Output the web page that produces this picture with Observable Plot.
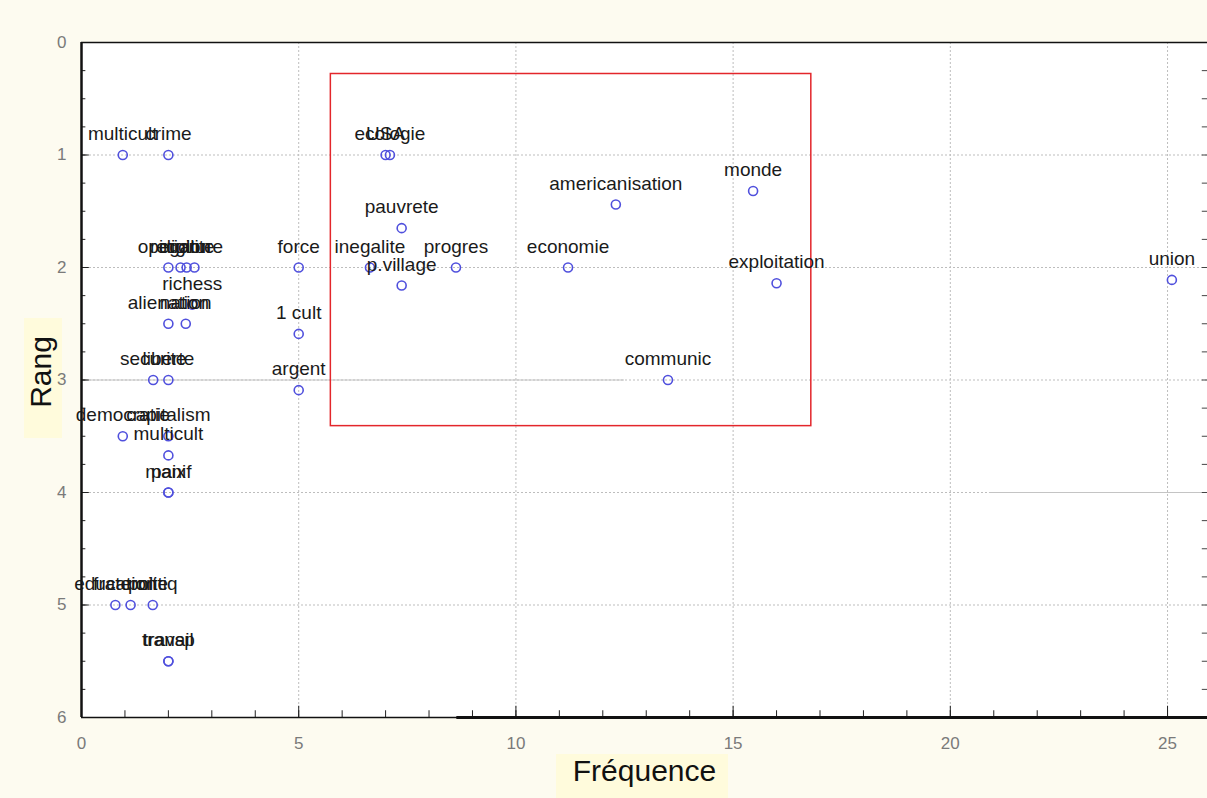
<!DOCTYPE html>
<html>
<head>
<meta charset="utf-8">
<script src="https://cdn.jsdelivr.net/npm/d3@7"></script>
<script src="https://cdn.jsdelivr.net/npm/@observablehq/plot@0.6"></script>
<style>
  html, body { margin: 0; padding: 0; background: #fdfbf0; }
  #chart svg { display: block; }
</style>
</head>
<body>
<div id="chart"></div>
<script>
// ---- data ----
const labels = [
  "multicult","crime",
  "opinion","religion","egalite","culture",
  "alienation","nation","richess",
  "securite","liberte",
  "democratie","capitalism","multicult",
  "paix","manif",
  "education","fraternite","politiq",
  "transp","travail",
  "USA","ecologie","pauvrete","force","inegalite","p.village","progres",
  "1 cult","argent","economie","americanisation","monde","exploitation",
  "communic","union"
];
const frequence = [
  0.95, 2,
  2, 2.28, 2.42, 2.6,
  2, 2.4, 2.55,
  1.65, 2,
  0.95, 2, 2,
  2, 2,
  0.78, 1.13, 1.64,
  2, 2,
  7.0, 7.1, 7.37, 5, 6.64, 7.37, 8.62,
  5, 5, 11.2, 12.3, 15.46, 16.0,
  13.5, 25.1
];
const rang = [
  1, 1,
  2, 2, 2, 2,
  2.5, 2.5, 2.33,
  3, 3,
  3.5, 3.5, 3.67,
  4, 4,
  5, 5, 5,
  5.5, 5.5,
  1, 1, 1.65, 2, 2, 2.16, 2,
  2.59, 3.09, 2, 1.44, 1.32, 2.14,
  3, 2.11
];
const xTicks = [0, 5, 10, 15, 20, 25];
const yTicks = [0, 1, 2, 3, 4, 5, 6];
const xMinor = d3.range(1, 26);
const yMinor = d3.range(0.25, 6, 0.25);
const highlightBox = [{x1: 5.74, x2: 16.8, y1: 0.28, y2: 3.41}];
const strayLines = [{y: 3, x1: 0, x2: 12.5}, {y: 4, x1: 20.9, x2: 25.92}];
const xMax = 25.92;

const points = labels.map((l, i) => ({label: l, x: frequence[i], y: rang[i]}));

const font = "'Liberation Sans', Arial, sans-serif";

const chart = Plot.plot({
  width: 1207,
  height: 798,
  marginLeft: 81,
  marginRight: 0,
  marginTop: 42,
  marginBottom: 81,
  style: {background: "#fdfbf0", fontFamily: font},
  x: {domain: [0, xMax]},
  y: {domain: [0, 6], reverse: true},
  marks: [
    Plot.frame({fill: "white", stroke: "none"}),
    // grid
    Plot.ruleY(yTicks.filter(d => d > 0 && d < 6), {stroke: "#bdbdbd", strokeDasharray: "2,2", strokeWidth: 1}),
    Plot.ruleX(xTicks.filter(d => d > 0), {stroke: "#bdbdbd", strokeDasharray: "2,2", strokeWidth: 1}),
    Plot.ruleY(strayLines, {y: "y", x1: "x1", x2: "x2", stroke: "#c4c4c4", strokeWidth: 1}),
    // minor ticks
    Plot.ruleY(yMinor, {x1: 0, x2: 0.1, stroke: "#222", strokeWidth: 1}),
    Plot.ruleY(yTicks, {x1: 0, x2: 0.18, stroke: "#222", strokeWidth: 1}),
    Plot.ruleY(yMinor, {x1: xMax - 0.12, x2: xMax, stroke: "#444", strokeWidth: 1}),
    Plot.ruleX(xMinor, {y1: 6, y2: 5.94, stroke: "#222", strokeWidth: 1}),
    Plot.ruleX(xTicks, {y1: 6, y2: 5.9, stroke: "#222", strokeWidth: 1}),
    // frame lines
    Plot.ruleY([0], {stroke: "#111", strokeWidth: 1.5}),
    Plot.ruleY([6], {stroke: "#111", strokeWidth: 1.5}),
    Plot.ruleY([{y: 6, x1: 8.64, x2: xMax}], {y: "y", x1: "x1", x2: "x2", stroke: "#111", strokeWidth: 3}),
    Plot.ruleX([0], {stroke: "#111", strokeWidth: 2.5}),
    // highlight box
    Plot.rect(highlightBox, {x1: "x1", x2: "x2", y1: "y1", y2: "y2", fill: "none", stroke: "#e3262b", strokeWidth: 1.5}),
    // points
    Plot.dot(points, {x: "x", y: "y", r: 4.5, stroke: "#5050dd", strokeWidth: 1.6, fill: "none"}),
    Plot.text(points, {x: "x", y: "y", text: "label", dy: -21, fontSize: 19, fill: "#1a1a1a", textAnchor: "middle", lineAnchor: "middle"}),
    // axes
    Plot.axisY(yTicks, {tickSize: 0, tickPadding: 15, fontSize: 17, color: "#7a7a7a", label: null, tickFormat: "d"}),
    Plot.axisX(xTicks, {tickSize: 0, tickPadding: 19, fontSize: 17, color: "#7a7a7a", label: null, tickFormat: "d"}),
    Plot.text(["Rang"], {frameAnchor: "left", dx: -40, dy: -8, rotate: -90, textAnchor: "middle", fontSize: 30, fill: "#111"}),
    Plot.text(["Fréquence"], {frameAnchor: "bottom", dy: 63, textAnchor: "middle", fontSize: 30, fill: "#111"})
  ]
});

// pale highlight boxes behind axis titles
const svg = d3.select(chart);
svg.insert("rect", ":first-child").attr("x", 24).attr("y", 318).attr("width", 38).attr("height", 120).attr("fill", "#fffbdc");
svg.insert("rect", ":first-child").attr("x", 556).attr("y", 754).attr("width", 172).attr("height", 44).attr("fill", "#fffbdc");

document.getElementById("chart").appendChild(chart);
</script>
</body>
</html>
